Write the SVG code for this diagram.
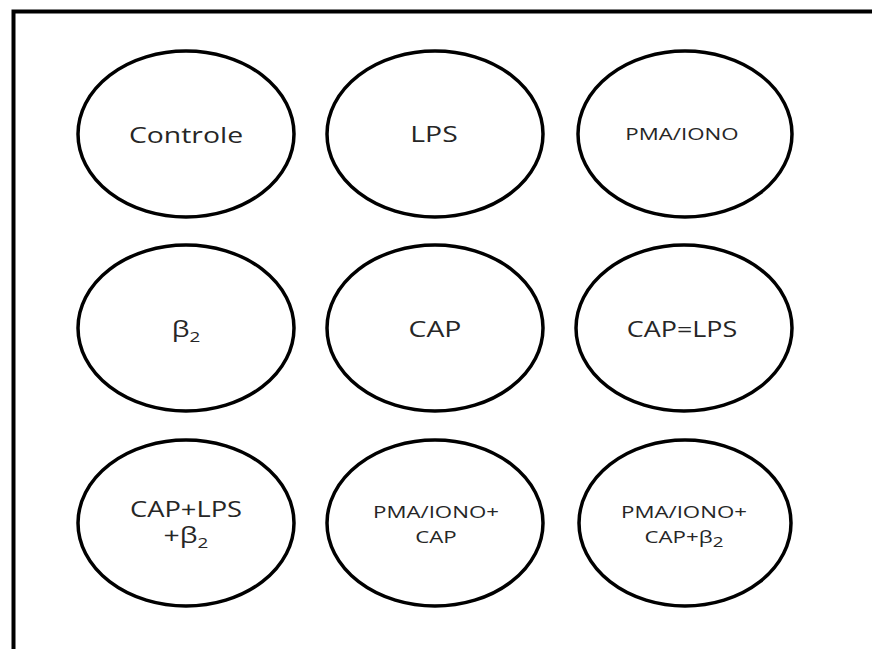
<svg xmlns="http://www.w3.org/2000/svg" width="872" height="649" viewBox="0 0 872 649">
<style>
.frame{stroke:#000;stroke-width:4;fill:none}
.node ellipse{fill:#fff;stroke:#000;stroke-width:3.5}
.t{font-family:"Open Sans","Liberation Sans",sans-serif;fill:#262626;text-anchor:middle}
.big{font-size:21px}
.small{font-size:16.5px}
.sub{font-size:14px}
</style>
<rect width="872" height="649" fill="#fff"/>
<path class="frame" d="M13.5,649 V11.5 H872"/>
<g id="connectors"/>
<g id="controle" class="node"><ellipse cx="186" cy="134" rx="108" ry="83"/>
<text class="t big" transform="translate(186,143) scale(1.35,1)" x="0" y="0">Controle</text></g>
<g id="lps" class="node"><ellipse cx="435" cy="134" rx="108" ry="83"/>
<text class="t big" transform="translate(434,142) scale(1.35,1)" x="0" y="0">LPS</text></g>
<g id="pma-iono" class="node"><ellipse cx="685" cy="134" rx="107" ry="83"/>
<text class="t small" transform="translate(682,140) scale(1.35,1)" x="0" y="0">PMA/IONO</text></g>
<g id="beta2" class="node"><ellipse cx="186" cy="328" rx="108" ry="83"/>
<text class="t big" transform="translate(186,337) scale(1.35,1)" x="0" y="0">β<tspan class="sub" dy="5">2</tspan></text></g>
<g id="cap" class="node"><ellipse cx="435" cy="328" rx="108" ry="83"/>
<text class="t big" transform="translate(435,337) scale(1.35,1)" x="0" y="0">CAP</text></g>
<g id="cap-lps" class="node"><ellipse cx="684" cy="328" rx="108" ry="83"/>
<text class="t big" transform="translate(682,337) scale(1.28,1)" x="0" y="0">CAP=LPS</text></g>
<g id="cap-lps-beta2" class="node"><ellipse cx="186" cy="523" rx="108" ry="83"/>
<text class="t big" transform="translate(186,517) scale(1.3,1)" x="0" y="0">CAP+LPS</text>
<text class="t big" transform="translate(186,543) scale(1.35,1)" x="0" y="0">+β<tspan class="sub" dy="5">2</tspan></text></g>
<g id="pma-iono-cap" class="node"><ellipse cx="435" cy="523" rx="108" ry="83"/>
<text class="t small" transform="translate(436,518) scale(1.35,1)" x="0" y="0">PMA/IONO+</text>
<text class="t small" transform="translate(436,543) scale(1.35,1)" x="0" y="0">CAP</text></g>
<g id="pma-iono-cap-beta2" class="node"><ellipse cx="685" cy="523" rx="106" ry="83"/>
<text class="t small" transform="translate(684,518) scale(1.35,1)" x="0" y="0">PMA/IONO+</text>
<text class="t small" transform="translate(684,543) scale(1.35,1)" x="0" y="0">CAP+β<tspan class="sub" dy="4">2</tspan></text></g>
</svg>
